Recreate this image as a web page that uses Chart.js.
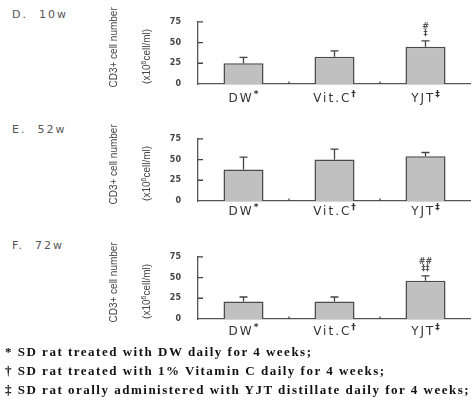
<!DOCTYPE html>
<html><head><meta charset="utf-8">
<script src="https://cdn.jsdelivr.net/npm/chart.js@4.4.1/dist/chart.umd.min.js"></script>
<style>
html,body{margin:0;padding:0;background:#fff;}
#wrap{position:relative;width:471px;height:407px;overflow:hidden;background:#fff;}
.pl{position:absolute;left:12px;font-family:"DejaVu Sans",sans-serif;font-size:11px;letter-spacing:2px;color:#555;line-height:12px;white-space:nowrap;}
canvas{position:absolute;left:0;}
.fn{position:absolute;left:5px;font-family:"Liberation Serif",serif;font-weight:bold;font-size:13px;letter-spacing:1.5px;color:#111;white-space:nowrap;line-height:14px;}
</style></head><body>
<div id="wrap">
  <div class="pl" id="p0" style="top:9px"></div>
  <div class="pl" id="p1" style="top:124px"></div>
  <div class="pl" id="p2" style="top:240px"></div>
  <canvas id="c0" width="471" height="110" style="top:0px;width:471px;height:110px"></canvas>
  <canvas id="c1" width="471" height="110" style="top:117px;width:471px;height:110px"></canvas>
  <canvas id="c2" width="471" height="110" style="top:235px;width:471px;height:110px"></canvas>
  <div class="fn" style="top:345px">* SD rat treated with DW daily for 4 weeks;</div>
  <div class="fn" style="top:364px">† SD rat treated with 1% Vitamin C daily for 4 weeks;</div>
  <div class="fn" style="top:383px">‡ SD rat orally administered with YJT distillate daily for 4 weeks;</div>
</div>
<script>
// ---- data ----
const categories = ['DW', 'Vit.C', 'YJT'];
const superscripts = ['*', '†', '‡'];
const yTicks = [0, 25, 50, 75];
const panelNames = ['D.\u00a0 10w', 'E.\u00a0 52w', 'F.\u00a0 72w'];
const yTitleLine1 = 'CD3+ cell number';
const yTitleLine2 = ['(x10', '6', 'cell/ml)'];   // (x10⁶cell/ml)

const means10w = [25, 33, 45];
const sd10w = [7, 7, 7];
const marksTop10w = ['', '', '#'];
const marksBottom10w = ['', '', '‡'];

const means52w = [38, 50, 54];
const sd52w = [15, 12.5, 4.5];
const marksTop52w = ['', '', ''];
const marksBottom52w = ['', '', ''];

const means72w = [21, 21, 46];
const sd72w = [5.5, 5.5, 6];
const marksTop72w = ['', '', '##'];
const marksBottom72w = ['', '', '‡‡'];

const panels = [
  {means: means10w, sd: sd10w, top: marksTop10w, bottom: marksBottom10w, labelOffset: 15},
  {means: means52w, sd: sd52w, top: marksTop52w, bottom: marksBottom52w, labelOffset: 11},
  {means: means72w, sd: sd72w, top: marksTop72w, bottom: marksBottom72w, labelOffset: 12.5}
];

const titleFont = '10px "Liberation Sans Narrow", "Liberation Sans", sans-serif';
const titleFontSmall = '7px "Liberation Sans Narrow", "Liberation Sans", sans-serif';

const decor = {
  id: 'decor',
  afterDatasetsDraw(chart, args, opts) {
    const ctx = chart.ctx, xs = chart.scales.x, ys = chart.scales.y, ca = chart.chartArea;
    ctx.save();
    ctx.strokeStyle = '#444';
    ctx.lineWidth = 1.3;
    // error bars
    opts.means.forEach((m, i) => {
      const px = xs.getPixelForValue(i);
      const y0 = ys.getPixelForValue(m), y1 = ys.getPixelForValue(m + opts.sd[i]);
      ctx.beginPath();
      ctx.moveTo(px, y0); ctx.lineTo(px, y1);
      ctx.moveTo(px - 4, y1); ctx.lineTo(px + 4, y1);
      ctx.stroke();
      ctx.fillStyle = '#555';
      ctx.font = 'bold 8px "DejaVu Sans"';
      ctx.textAlign = 'center';
      ctx.textBaseline = 'middle';
      if (opts.bottom[i]) ctx.fillText(opts.bottom[i], px, y1 - 7);
      if (opts.top[i]) ctx.fillText(opts.top[i], px, y1 - 14);
    });
    // inner y ticks
    ctx.beginPath();
    yTicks.forEach(v => {
      if (v === 0) return;
      const py = ys.getPixelForValue(v);
      ctx.moveTo(ca.left, py); ctx.lineTo(ca.left + 5, py);
    });
    // small x ticks at category boundaries
    for (let i = 1; i < categories.length; i++) {
      const bx = (xs.getPixelForValue(i - 1) + xs.getPixelForValue(i)) / 2;
      ctx.moveTo(bx, ca.bottom); ctx.lineTo(bx, ca.bottom - 2.5);
    }
    ctx.stroke();
    // x labels with superscripts
    ctx.fillStyle = '#333';
    ctx.textAlign = 'left';
    ctx.textBaseline = 'middle';
    categories.forEach((c, i) => {
      const px = xs.getPixelForValue(i);
      ctx.font = '12px "DejaVu Sans"';
      ctx.letterSpacing = '2px';
      const w1 = ctx.measureText(c).width;
      ctx.font = 'bold 9px "DejaVu Sans"';
      ctx.letterSpacing = '0px';
      const w2 = ctx.measureText(superscripts[i]).width;
      const sx = px - (w1 + w2) / 2;
      const ly = ca.bottom + opts.labelOffset;
      ctx.font = '12px "DejaVu Sans"';
      ctx.letterSpacing = '2px';
      ctx.fillText(c, sx, ly);
      ctx.font = 'bold 9px "DejaVu Sans"';
      ctx.letterSpacing = '0px';
      ctx.fillText(superscripts[i], sx + w1, ly - 4);
    });
    // y title
    const mid = (ca.top + ca.bottom) / 2;
    ctx.fillStyle = '#444';
    ctx.textAlign = 'center';
    ctx.font = titleFont;
    ctx.save();
    ctx.translate(114, mid - 5.5);
    ctx.rotate(-Math.PI / 2);
    ctx.fillText(yTitleLine1, 0, 0);
    ctx.restore();
    // second line with superscript 6
    ctx.save();
    ctx.translate(147, mid + 3.5);
    ctx.rotate(-Math.PI / 2);
    ctx.textAlign = 'left';
    ctx.font = titleFont;
    const a = ctx.measureText(yTitleLine2[0]).width;
    const c2 = ctx.measureText(yTitleLine2[2]).width;
    ctx.font = titleFontSmall;
    const b = ctx.measureText(yTitleLine2[1]).width;
    let x0 = -(a + b + c2) / 2;
    ctx.font = titleFont;
    ctx.fillText(yTitleLine2[0], x0, 0);
    ctx.font = titleFontSmall;
    ctx.fillText(yTitleLine2[1], x0 + a, -3);
    ctx.font = titleFont;
    ctx.fillText(yTitleLine2[2], x0 + a + b, 0);
    ctx.restore();
    ctx.restore();
  }
};

panels.forEach((p, k) => {
  document.getElementById('p' + k).textContent = panelNames[k];
  const canvas = document.getElementById('c' + k);
  new Chart(canvas, {
    type: 'bar',
    data: {
      labels: categories,
      datasets: [{
        data: p.means,
        backgroundColor: '#c0c0c0',
        borderColor: '#4a4a4a',
        borderWidth: 1.5,
        barPercentage: 0.44,
        categoryPercentage: 1
      }]
    },
    options: {
      responsive: false,
      animation: false,
      layout: {padding: {top: 9, right: 0, bottom: 0, left: 0}},
      plugins: {
        legend: {display: false},
        tooltip: {enabled: false},
        decor: p
      },
      scales: {
        x: {
          offset: true,
          grid: {display: false, drawTicks: false},
          border: {display: true, color: '#555', width: 1.3},
          ticks: {display: false},
          afterFit: s => { s.height = 26; }
        },
        y: {
          min: 0, max: 75,
          afterBuildTicks: s => { s.ticks = yTicks.map(v => ({value: v})); },
          grid: {display: false, drawTicks: false},
          border: {display: true, color: '#555', width: 1.3},
          ticks: {padding: 17, color: '#444', font: {family: 'DejaVu Sans', size: 8, weight: 'bold'}},
          afterFit: s => { s.width = 198; }
        }
      }
    },
    plugins: [decor]
  });
});
</script>
</body></html>
